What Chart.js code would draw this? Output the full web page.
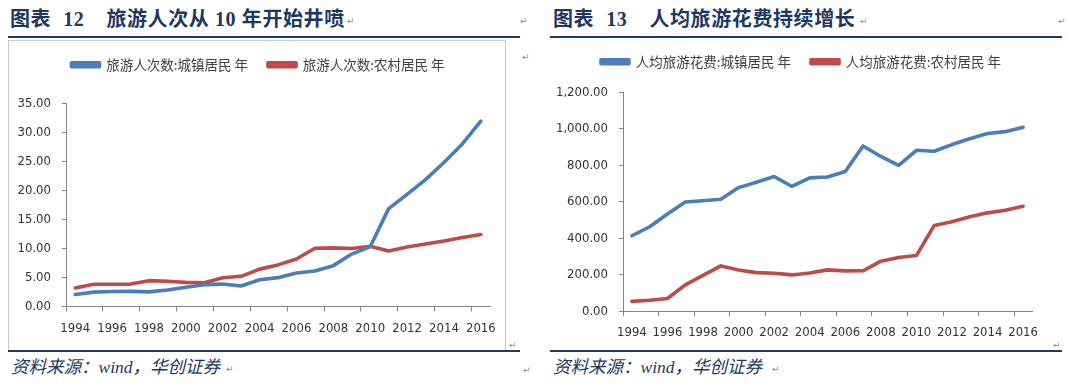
<!DOCTYPE html>
<html>
<head>
<meta charset="utf-8">
<script src="https://cdn.jsdelivr.net/npm/chart.js@4.4.1/dist/chart.umd.min.js"></script>
<style>
  html, body { margin: 0; padding: 0; background: #fff; }
  body { width: 1068px; height: 388px; position: relative; overflow: hidden; }
  .title { position: absolute; top: 6px; font-family: "Liberation Serif", "Noto Sans CJK SC", serif; font-weight: 700; font-size: 20px; line-height: 26px; color: #1c3763; white-space: nowrap; letter-spacing: 0.6px; }
  .title .num { margin-left: 12px; margin-right: 22px; }
  .rule { position: absolute; height: 2px; background: #1f3a63; }
  .box { position: absolute; border: 1px solid #c9c9c9; border-bottom: none; box-sizing: border-box; }
  .src { position: absolute; top: 355px; font-family: "Liberation Serif", "Noto Sans CJK SC", serif; font-style: italic; font-size: 17.5px; line-height: 24px; color: #1c3763; white-space: nowrap; }
  .ret { position: absolute; font-family: "DejaVu Sans", sans-serif; font-size: 9px; color: #8a8a8a; line-height: 10px; }
  canvas { position: absolute; }
</style>
</head>
<body>
<div class="title" style="left:10px;">图表<span class="num">12</span>旅游人次从 10 年开始井喷</div>
<div class="title" style="left:553px;">图表<span class="num">13</span>人均旅游花费持续增长</div>
<div class="rule" style="left:8px; width:512px; top:36px;"></div>
<div class="rule" style="left:550px; width:512px; top:36px;"></div>
<div class="box" style="left:8px; top:40px; width:498px; height:311px;"></div>
<div class="rule" style="left:8px; width:512px; top:350px;"></div>
<div class="rule" style="left:550px; width:512px; top:350px;"></div>
<div class="src" style="left:11px;">资料来源：wind，华创证券</div>
<div class="src" style="left:553px;">资料来源：wind，华创证券</div>
<span class="ret" style="left:347px; top:16px;">↵</span>
<span class="ret" style="left:520px; top:16px;">↵</span>
<span class="ret" style="left:522px; top:52px;">↵</span>
<span class="ret" style="left:509px; top:340px;">↵</span>
<span class="ret" style="left:523px; top:365px;">↵</span>
<span class="ret" style="left:226px; top:364px;">↵</span>
<span class="ret" style="left:860px; top:16px;">↵</span>
<span class="ret" style="left:1058px; top:16px;">↵</span>
<span class="ret" style="left:1053px; top:340px;">↵</span>
<span class="ret" style="left:772px; top:364px;">↵</span>
<canvas id="c1" width="496" height="309" style="left:9px; top:41px;"></canvas>
<canvas id="c2" width="512" height="308" style="left:550px; top:41px;"></canvas>
<script>
const years = ['1994','1995','1996','1997','1998','1999','2000','2001','2002','2003','2004','2005','2006','2007','2008','2009','2010','2011','2012','2013','2014','2015','2016'];
const tripsUrban = [2.05,2.46,2.56,2.59,2.50,2.84,3.29,3.75,3.85,3.51,4.59,4.96,5.76,6.12,7.03,9.03,10.30,16.87,19.33,21.86,24.83,28.02,31.95];
const tripsRural = [3.19,3.83,3.83,3.85,4.44,4.35,4.15,4.09,4.93,5.19,6.43,7.16,8.18,10.04,10.09,9.99,10.38,9.57,10.24,10.76,11.28,11.88,12.40];
const spendUrban = [414.7,464.0,534.1,599.8,607.0,614.8,678.6,708.3,739.7,684.9,731.8,737.1,766.4,906.9,849.4,801.1,883.0,877.8,914.5,946.6,975.4,985.5,1009.1];
const spendRural = [54.9,61.5,70.5,145.7,197.0,249.5,226.6,212.7,209.1,200.0,210.2,227.6,221.9,222.5,275.3,295.3,306.0,471.4,491.0,518.9,540.2,554.2,576.4];
const labels1 = ['旅游人次数:城镇居民 年', '旅游人次数:农村居民 年'];
const labels2 = ['人均旅游花费:城镇居民 年', '人均旅游花费:农村居民 年'];

const BLUE = '#4a7ebb';
const RED = '#be4b48';
const AXIS = '#868686';
const TEXT = '#333333';
const TICK_FONT = { family: "'Liberation Sans Narrow', 'DejaVu Sans Condensed', 'Liberation Sans', sans-serif", size: 13 };

function legendTweak(extra, shiftX, shiftY) {
  return {
    id: 'legendTweak',
    beforeInit(chart) {
      const lg = chart.legend;
      const origFit = lg.fit;
      lg.fit = function () { origFit.call(this); this.height += extra; };
      const origDraw = lg.draw;
      lg.draw = function () {
        const c = this.ctx;
        c.save();
        c.translate(shiftX, shiftY);
        origDraw.apply(this, arguments);
        c.restore();
      };
    }
  };
}

function makeChart(id, dsLabels, a, b, yMax, yStep, fmt, cfg) {
  return new Chart(document.getElementById(id), {
    type: 'line',
    data: {
      labels: years,
      datasets: [
        { label: dsLabels[0], data: a, borderColor: BLUE, backgroundColor: BLUE, borderWidth: 3.6, pointRadius: 0, tension: 0, borderCapStyle: 'round', borderJoinStyle: 'round' },
        { label: dsLabels[1], data: b, borderColor: RED, backgroundColor: RED, borderWidth: 3.6, pointRadius: 0, tension: 0, borderCapStyle: 'round', borderJoinStyle: 'round' }
      ]
    },
    options: {
      responsive: false,
      animation: false,
      events: [],
      layout: { padding: cfg.padding },
      plugins: {
        legend: {
          position: 'top',
          align: 'center',
          labels: {
            boxWidth: 28, boxHeight: 4, padding: 20,
            color: '#404040',
            font: { family: "'Noto Sans CJK SC', sans-serif", size: 13.5 }
          }
        },
        tooltip: { enabled: false }
      },
      scales: {
        x: {
          type: 'category',
          offset: true,
          border: { color: AXIS, width: 1 },
          grid: {
            display: true, drawOnChartArea: false, drawTicks: true, tickLength: 5, offset: true,
            tickColor: (ctx) => (ctx.index % 2 === 0 ? AXIS : 'rgba(0,0,0,0)')
          },
          ticks: {
            autoSkip: false, maxRotation: 0, minRotation: 0, padding: cfg.xPad,
            color: TEXT, font: TICK_FONT,
            callback: function (v, i) { return i % 2 === 0 ? this.getLabelForValue(v) : ''; }
          }
        },
        y: {
          min: 0, max: yMax,
          border: { color: AXIS, width: 1 },
          grid: { display: true, drawOnChartArea: false, drawTicks: true, tickLength: 4, tickColor: AXIS },
          ticks: { stepSize: yStep, padding: 11, color: TEXT, font: TICK_FONT, callback: fmt },
          afterFit(scale) { scale.width = cfg.yWidth; }
        }
      }
    },
    plugins: [legendTweak(cfg.legendExtra, cfg.shiftX, cfg.shiftY)]
  });
}

makeChart('c1', labels1, tripsUrban, tripsRural, 35, 5,
  (v) => Number(v).toFixed(2),
  { padding: { top: 7, left: 0, right: 14, bottom: 5 }, xPad: 9, yWidth: 57, legendExtra: 12, shiftX: 8, shiftY: -10 });

makeChart('c2', labels2, spendUrban, spendRural, 1200, 200,
  (v) => Number(v).toLocaleString('en-US', { minimumFractionDigits: 2, maximumFractionDigits: 2 }),
  { padding: { top: 4, left: 0, right: 30, bottom: 1 }, xPad: 8, yWidth: 73, legendExtra: 4, shiftX: 10, shiftY: -10 });
</script>
</body>
</html>
